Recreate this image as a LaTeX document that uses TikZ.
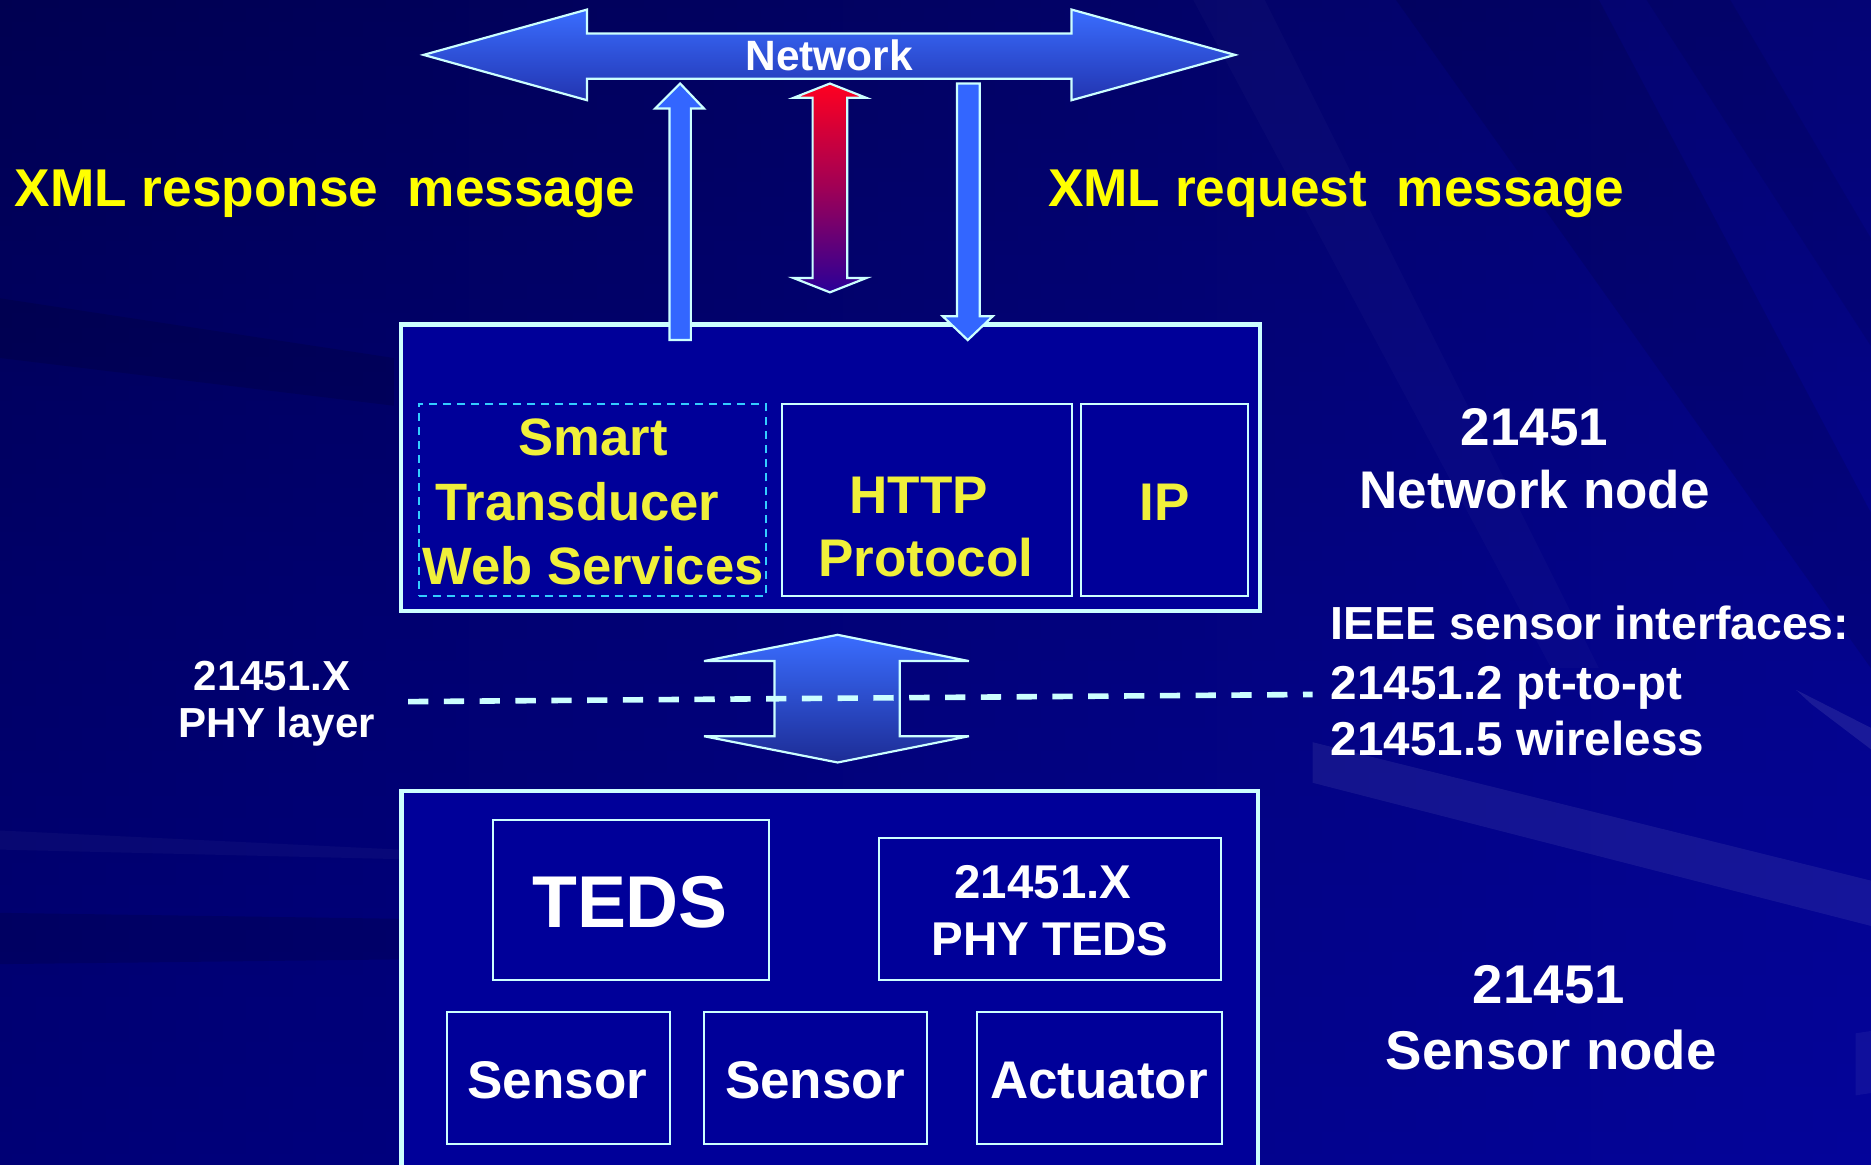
\documentclass[tikz,border=0pt]{standalone}
\usepackage{fontspec}
\setmainfont{Liberation Sans}
\newdimen\du
\du=0.5966pt
\newcommand\setfs[1]{\fontsize{#1}{#1}\selectfont\bfseries}
\definecolor{bgdeep}{HTML}{000046}
\definecolor{bgmid}{HTML}{00006E}
\definecolor{bgmain}{HTML}{000088}
\definecolor{bgleft}{HTML}{000060}
\definecolor{bgright}{HTML}{0A0AB0}
\definecolor{boxfill}{HTML}{000099}
\definecolor{edge}{HTML}{CCFFFF}
\definecolor{dashcyan}{HTML}{33CCFF}
\definecolor{hiyellow}{HTML}{FFFF00}
\definecolor{boxyellow}{HTML}{F0F03A}
\definecolor{arrowblue}{HTML}{3366FF}
\definecolor{arrowtop}{HTML}{3A6DFF}
\definecolor{arrowlow}{HTML}{2234B0}
\definecolor{hotred}{HTML}{FF0020}
\definecolor{deepviolet}{HTML}{2A0098}
\tikzset{
  outerbox/.style={draw=edge, line width=2.2pt, fill=boxfill, inner sep=0, minimum width=#1},
  innerbox/.style={draw=edge, line width=1pt, fill=boxfill, inner sep=0},
  wsbox/.style={draw=dashcyan, line width=1pt, dash pattern=on 4pt off 3pt, inner sep=0},
  blockarrow/.style={draw=edge, line width=1.1pt, line join=miter},
  txt/.style={inner sep=0, text=white, anchor=base},
  ytxt/.style={inner sep=0, text=boxyellow, anchor=base},
}
\begin{document}
\begin{tikzpicture}[x=\du, y=-\du]
% slide background
\useasboundingbox (0,0) rectangle (1568,976);
\shade[top color=bgdeep, bottom color=bgmain, middle color=bgmid] (0,0) rectangle (1568,976);
\shade[left color=bgleft, right color=bgright, opacity=0.45] (0,0) rectangle (1568,976);
% soft streaks
\fill[black, opacity=0.10] (1170,0) -- (1340,0) -- (1568,430) -- (1568,560) -- cycle;
\fill[black, opacity=0.08] (1380,0) -- (1450,0) -- (1568,200) -- (1568,290) -- cycle;
\fill[white, opacity=0.025] (1000,0) -- (1060,0) -- (1340,560) -- (1300,560) -- cycle;
\fill[black, opacity=0.12] (0,250) -- (0,300) -- (330,340) -- (330,300) -- cycle;
\fill[black, opacity=0.12] (0,765) -- (0,808) -- (335,804) -- (335,770) -- cycle;
\fill[white, opacity=0.03] (0,696) -- (0,712) -- (335,720) -- (335,712) -- cycle;
\fill[white, opacity=0.07] (1100,622) -- (1568,738) -- (1568,776) -- (1100,656) -- cycle;
\fill[white, opacity=0.09] (1505,578) -- (1568,610) -- (1568,628) -- (1518,590) -- cycle;
\fill[white, opacity=0.05] (1555,866) -- (1568,864) -- (1568,916) -- (1555,918) -- cycle;

% network backbone (double block arrow)
\shade[blockarrow, top color=arrowtop, bottom color=arrowlow]
  (355,46) -- (492,8) -- (492,28) -- (898,28) -- (898,8) -- (1035,46)
  -- (898,84) -- (898,66) -- (492,66) -- (492,84) -- cycle;
\node[txt, font=\setfs{21.2}] (net) at (695,59) {Network};

% network node and its layers
\node[outerbox=720\du, minimum height=240\du] (netbox) at (696,392) {};
\node[wsbox, minimum width=291\du, minimum height=161\du] (ws) at (496.3,419) {};
\node[innerbox, minimum width=243\du, minimum height=161\du] (http) at (776.5,419) {};
\node[innerbox, minimum width=140\du, minimum height=161\du] (ip) at (976,419) {};
\node[ytxt, font=\setfs{26.3}] (ws1) at (497,382) {Smart};
\node[ytxt, font=\setfs{26.3}] (ws2) at (484,436) {Transducer};
\node[ytxt, font=\setfs{26.3}] (ws3) at (497,490) {Web Services};
\node[ytxt, font=\setfs{26.5}] (http1) at (770,430) {HTTP};
\node[ytxt, font=\setfs{26.5}] (http2) at (776,483) {Protocol};
\node[ytxt, font=\setfs{26.5}] (ipt) at (976,436) {IP};

% message arrows between the node and the network
\fill[blockarrow, fill=arrowblue]
  (561,285) -- (561,91) -- (549,91) -- (570,70) -- (590,91) -- (579,91) -- (579,285) -- cycle;
\shade[blockarrow, top color=hotred, bottom color=deepviolet, middle color=hotred!55!deepviolet]
  (681,82) -- (665,82) -- (695.5,70) -- (726,82) -- (710,82) -- (710,233)
  -- (726,233) -- (695.5,245) -- (665,233) -- (681,233) -- cycle;
\fill[blockarrow, fill=arrowblue]
  (802,70) -- (821,70) -- (821,265) -- (832,265) -- (811,285) -- (790,265) -- (802,265) -- cycle;

\node[txt, anchor=base west, text=hiyellow, font=\setfs{26.6}] (resp) at (12,173) {XML response\ \ message};
\node[txt, anchor=base west, text=hiyellow, font=\setfs{26.6}] (req) at (878,173) {XML request\ \ message};

\node[txt, font=\setfs{26.5}] (nn1) at (1286,373) {21451};
\node[txt, font=\setfs{26.5}] (nn2) at (1286,426) {Network node};

% physical layer link
\shade[blockarrow, top color=arrowtop, bottom color=arrowlow!85!black]
  (702,532) -- (812,554) -- (754,554) -- (754,617) -- (812,617) -- (702,639)
  -- (590,617) -- (649,617) -- (649,554) -- (590,554) -- cycle;
\coordinate (phyL) at (342,588);
\coordinate (phyR) at (1100,582);
\draw[edge, line width=2.8pt, dash pattern=on 17\du off 13\du] (phyL) -- (phyR);
\node[txt, font=\setfs{21}] (phy1) at (228,579) {21451.X};
\node[txt, font=\setfs{21}] (phy2) at (232,618) {PHY layer};
\node[txt, anchor=base west, font=\setfs{23.2}] (ieee1) at (1115,536) {IEEE sensor interfaces:};
\node[txt, anchor=base west, font=\setfs{23.8}] (ieee2) at (1115,586) {21451.2 pt-to-pt};
\node[txt, anchor=base west, font=\setfs{23.8}] (ieee3) at (1115,633) {21451.5 wireless};

% sensor node
\node[outerbox=718\du, minimum height=340\du, anchor=north] (sensbox) at (695.5,661) {};
\node[innerbox, minimum width=230.5\du, minimum height=134\du] (teds) at (528.8,754) {};
\node[txt, font=\setfs{36.7}] (tedst) at (528,777) {TEDS};
\node[innerbox, minimum width=286\du, minimum height=118.5\du] (phyteds) at (880,761.8) {};
\node[txt, font=\setfs{23.7}] (pt1) at (874,753) {21451.X};
\node[txt, font=\setfs{23.7}] (pt2) at (880,801) {PHY TEDS};
\node[innerbox, minimum width=186.6\du, minimum height=110.6\du] (s1) at (468.1,903.7) {};
\node[innerbox, minimum width=186.2\du, minimum height=110.6\du] (s2) at (683.4,903.7) {};
\node[innerbox, minimum width=205.4\du, minimum height=110.6\du] (act) at (921.5,903.7) {};
\node[txt, font=\setfs{26.5}] (s1t) at (467,921) {Sensor};
\node[txt, font=\setfs{26.5}] (s2t) at (683,921) {Sensor};
\node[txt, font=\setfs{26.5}] (actt) at (921,921) {Actuator};

\node[txt, font=\setfs{27.3}] (sn1) at (1298,841) {21451};
\node[txt, font=\setfs{27.3}] (sn2) at (1300,896) {Sensor node};
\end{tikzpicture}
\end{document}
